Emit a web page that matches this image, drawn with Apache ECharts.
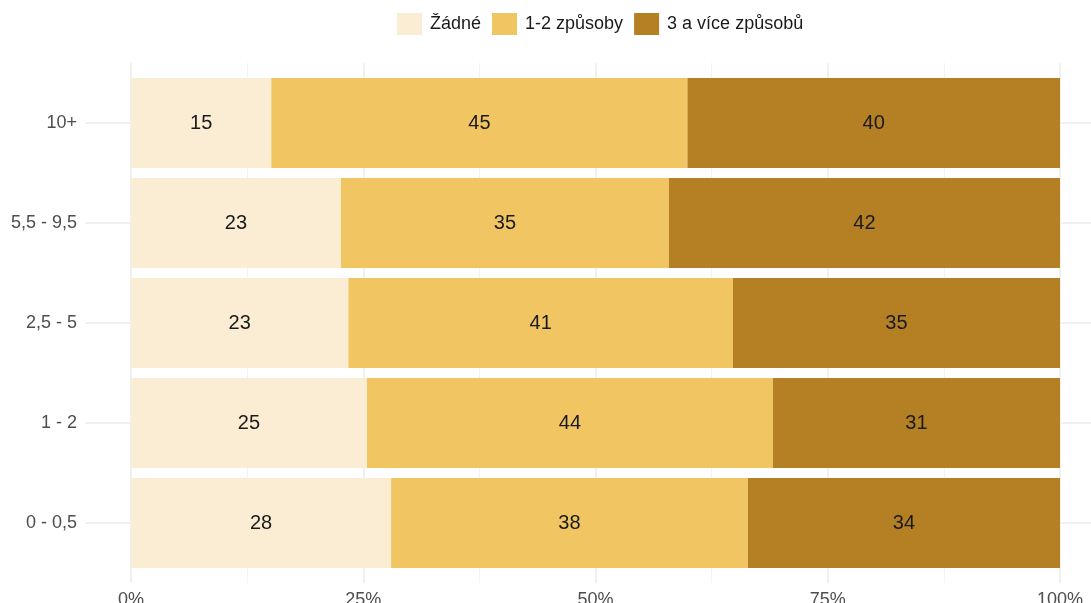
<!DOCTYPE html>
<html><head><meta charset="utf-8">
<script src="https://cdn.jsdelivr.net/npm/echarts@6/dist/echarts.min.js"></script>
<style>html,body{margin:0;padding:0;background:#fff}#c{width:1091px;height:603px}</style>
</head><body><div id="c"></div>
<script>
var categories = ['0 - 0,5', '1 - 2', '2,5 - 5', '5,5 - 9,5', '10+'];
var seriesNames = ['Žádné', '1-2 způsoby', '3 a více způsobů'];
var zadne = [28.0, 25.4, 23.4, 22.6, 15.1];
var jedenDva = [38.4, 43.7, 41.4, 35.3, 44.8];
var triVice = [33.6, 30.9, 35.2, 42.1, 40.1];
var xTicks = [0, 25, 50, 75, 100];
var colors = ['#FAEDD3', '#F1C562', '#B58023'];

var FONT = 'Liberation Sans, Arial, Helvetica, sans-serif';
var chart = echarts.init(document.getElementById('c'));
var values = [zadne, jedenDva, triVice];
var series = values.map(function (arr, i) {
  return {
    name: seriesNames[i], type: 'bar', stack: 'total', barWidth: 90,
    xAxisIndex: 0, yAxisIndex: 0, z: 3,
    itemStyle: { color: colors[i] },
    label: { show: true, position: 'inside', color: '#1a1a1a', fontSize: 20, fontFamily: FONT,
      formatter: function (p) { return Math.round(p.value); } },
    emphasis: { disabled: true },
    data: arr
  };
});
chart.setOption({
  animation: false,
  textStyle: { fontFamily: FONT },
  legend: {
    top: 13, left: 397, padding: 0, itemWidth: 25, itemHeight: 22, itemGap: 11,
    textStyle: { fontSize: 18, color: '#1a1a1a', fontFamily: FONT, padding: [0, 0, 0, 3] },
    data: seriesNames, icon: 'rect', selectedMode: false
  },
  grid: [
    { left: 131, right: 31, top: 73, bottom: 30, outerBoundsMode: 'none', containLabel: false },
    { left: 131, right: 31, top: 63, bottom: 20, outerBoundsMode: 'none', containLabel: false }
  ],
  xAxis: [
    { type: 'value', gridIndex: 0, min: 0, max: 100, interval: 25,
      axisLine: { show: false }, axisTick: { show: false }, axisLabel: { show: false }, splitLine: { show: false } },
    { type: 'value', gridIndex: 1, min: 0, max: 100, interval: 25,
      axisLine: { show: false }, axisTick: { show: false },
      axisLabel: { show: true, color: '#4d4d4d', fontSize: 18, margin: 8, fontFamily: FONT,
        formatter: function (v) { return xTicks.indexOf(v) >= 0 ? v + '%' : ''; } },
      splitLine: { show: true, lineStyle: { color: '#ebebeb', width: 1.5 } },
      minorTick: { show: false, splitNumber: 2 },
      minorSplitLine: { show: true, lineStyle: { color: '#f3f3f3', width: 1 } } }
  ],
  yAxis: [
    { type: 'category', gridIndex: 0, data: categories, position: 'left',
      axisLine: { show: false },
      axisTick: { show: true, alignWithLabel: true, length: 46, lineStyle: { color: '#ebebeb', width: 1.5 } },
      axisLabel: { color: '#4d4d4d', fontSize: 18, margin: 54, fontFamily: FONT },
      splitLine: { show: false } },
    { type: 'category', gridIndex: 0, data: categories, position: 'right',
      axisLine: { show: false },
      axisTick: { show: true, alignWithLabel: true, length: 46, lineStyle: { color: '#ebebeb', width: 1.5 } },
      axisLabel: { show: false }, splitLine: { show: false } },
    { type: 'value', gridIndex: 1, show: false, min: 0, max: 1, splitLine: { show: false } }
  ],
  series: series.concat([{ type: 'line', xAxisIndex: 1, yAxisIndex: 2, data: [], silent: true }])
});
</script>
</body></html>
